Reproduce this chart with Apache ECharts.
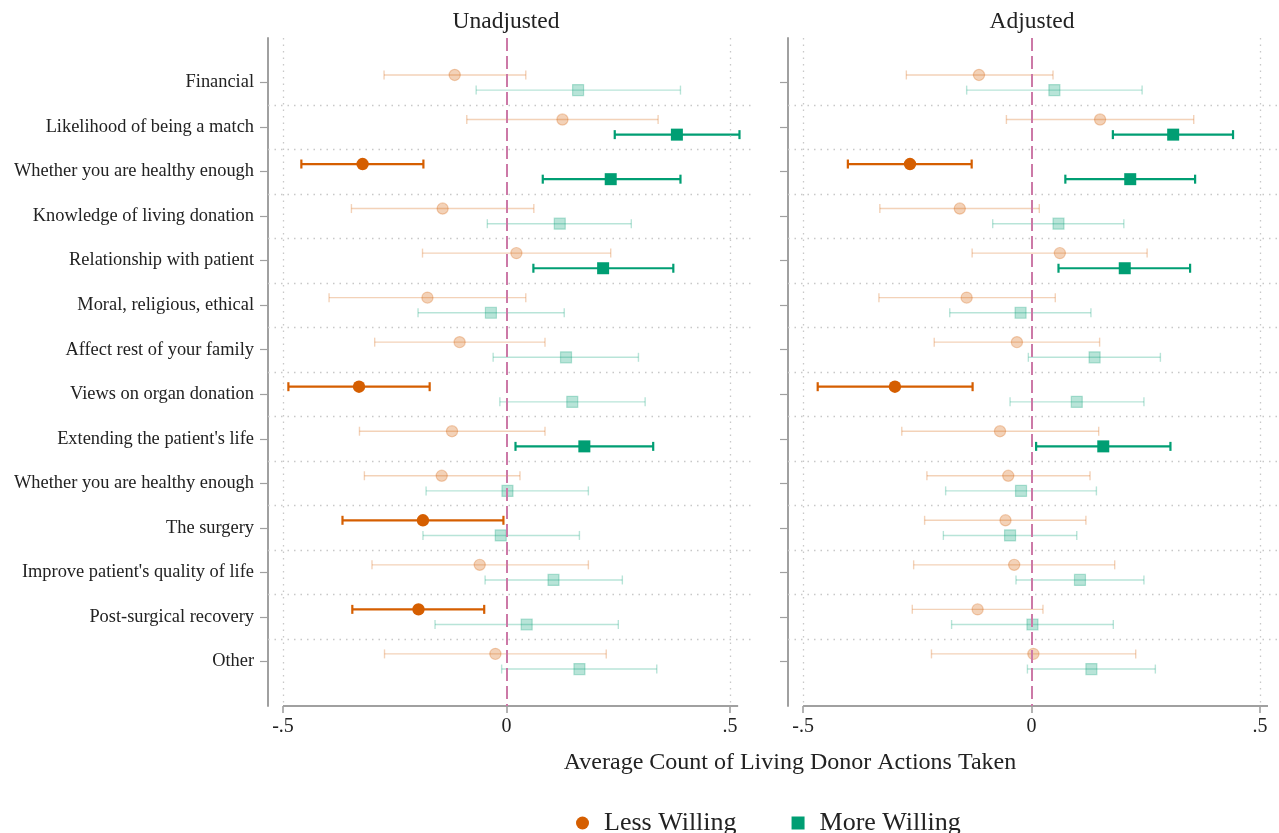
<!DOCTYPE html>
<html><head><meta charset="utf-8">
<script src="https://cdn.jsdelivr.net/npm/echarts@6/dist/echarts.min.js"></script>
<style>html,body{margin:0;padding:0;background:#fff}#c{width:1279px;height:833px}</style>
</head><body><div id="c"></div>
<script>
const categories = ["Financial","Likelihood of being a match","Whether you are healthy enough","Knowledge of living donation","Relationship with patient","Moral, religious, ethical","Affect rest of your family","Views on organ donation","Extending the patient's life","Whether you are healthy enough","The surgery","Improve patient's quality of life","Post-surgical recovery","Other"];
const xTickValues = [-0.5, 0, 0.5];
const xTickLabels = ["-.5", "0", ".5"];
const panelTitles = ["Unadjusted", "Adjusted"];
const seriesNames = ["Less Willing", "More Willing"];

// Unadjusted - Less Willing
const unadjLessEst = [-0.116,0.125,-0.322,-0.143,0.022,-0.177,-0.105,-0.330,-0.122,-0.145,-0.187,-0.060,-0.197,-0.025];
const unadjLessLo  = [-0.274,-0.089,-0.459,-0.347,-0.188,-0.397,-0.295,-0.488,-0.329,-0.318,-0.367,-0.301,-0.345,-0.273];
const unadjLessHi  = [0.043,0.339,-0.186,0.061,0.233,0.043,0.086,-0.172,0.086,0.030,-0.007,0.183,-0.050,0.223];
// Unadjusted - More Willing
const unadjMoreEst = [0.160,0.381,0.233,0.119,0.216,-0.035,0.133,0.147,0.174,0.002,-0.013,0.105,0.045,0.163];
const unadjMoreLo  = [-0.068,0.242,0.081,-0.043,0.060,-0.198,-0.030,-0.015,0.020,-0.180,-0.187,-0.048,-0.160,-0.011];
const unadjMoreHi  = [0.389,0.521,0.389,0.279,0.373,0.129,0.295,0.310,0.328,0.183,0.163,0.259,0.250,0.336];
// Adjusted - Less Willing
const adjLessEst = [-0.115,0.150,-0.266,-0.157,0.062,-0.142,-0.032,-0.299,-0.069,-0.051,-0.057,-0.038,-0.118,0.004];
const adjLessLo  = [-0.274,-0.055,-0.402,-0.332,-0.130,-0.334,-0.213,-0.468,-0.284,-0.229,-0.234,-0.258,-0.261,-0.219];
const adjLessHi  = [0.047,0.355,-0.131,0.017,0.253,0.052,0.149,-0.129,0.147,0.128,0.119,0.182,0.025,0.228];
// Adjusted - More Willing
const adjMoreEst = [0.050,0.310,0.216,0.059,0.204,-0.024,0.138,0.099,0.157,-0.023,-0.047,0.106,0.002,0.131];
const adjMoreLo  = [-0.142,0.178,0.074,-0.085,0.059,-0.179,-0.007,-0.047,0.010,-0.188,-0.193,-0.034,-0.175,-0.009];
const adjMoreHi  = [0.242,0.441,0.358,0.202,0.347,0.130,0.282,0.246,0.304,0.142,0.099,0.246,0.179,0.271];

const ORANGE = '#d55e00', GREEN = '#009e73', PINK = '#cc79a7', GRID = '#c8c8c8', AXIS = '#a0a0a0';
const SERIF = '"Liberation Serif","Times New Roman",serif';
const OFFSET = 0.17;

function build(est, lo, hi, off) {
  return est.map((v, i) => [i + 1 + off, lo[i], v, hi[i]]);
}

function makeRender(shape, color) {
  return function (params, api) {
    const y = api.value(0), lo = api.value(1), pt = api.value(2), hi = api.value(3);
    const sig = lo > 0 || hi < 0;
    const a = sig ? 1 : 0.28;
    const lw = sig ? 2.2 : 1.4;
    const pL = api.coord([lo, y]), pH = api.coord([hi, y]), pP = api.coord([pt, y]);
    const cap = 4.5;
    const ls = { stroke: color, lineWidth: lw, opacity: a };
    const ch = [
      { type: 'line', shape: { x1: pL[0], y1: pL[1], x2: pH[0], y2: pH[1] }, style: ls },
      { type: 'line', shape: { x1: pL[0], y1: pL[1] - cap, x2: pL[0], y2: pL[1] + cap }, style: ls },
      { type: 'line', shape: { x1: pH[0], y1: pH[1] - cap, x2: pH[0], y2: pH[1] + cap }, style: ls }
    ];
    if (shape === 'circle') {
      ch.push({ type: 'circle', shape: { cx: pP[0], cy: pP[1], r: sig ? 6.2 : 5.6 },
        style: sig ? { fill: color } : { fill: color, opacity: a, stroke: color, lineWidth: 1.2 } });
    } else {
      const s = sig ? 12 : 11;
      ch.push({ type: 'rect', shape: { x: pP[0] - s / 2, y: pP[1] - s / 2, width: s, height: s },
        style: sig ? { fill: color } : { fill: color, opacity: a, stroke: color, lineWidth: 1.2 } });
    }
    return { type: 'group', children: ch };
  };
}

const grids = [
  { left: 268, top: 38, width: 484, height: 668, min: -0.5336, max: 0.549, axisEnd: 0.518 },
  { left: 788, top: 38, width: 491, height: 668, min: -0.533, max: 0.5416, axisEnd: 0.5175 }
];

const catIdx = categories.map((c, i) => i + 1);
const sepLines = categories.slice(1).map((c, i) => ({ yAxis: i + 1.5 }));

const option = {
  animation: false,
  backgroundColor: '#fff',
  grid: grids.map(g => ({ left: g.left, top: g.top, width: g.width, height: g.height, containLabel: false })),
  xAxis: grids.map((g, k) => ({
    type: 'value', gridIndex: k, min: g.min, max: g.max, position: 'bottom',
    axisLine: { show: false, onZero: false },
    axisTick: { show: true, length: 7, customValues: xTickValues, lineStyle: { color: AXIS, width: 1.6 } },
    axisLabel: { customValues: xTickValues, margin: 11, color: '#222', fontSize: 20, fontFamily: SERIF,
      formatter: v => { const i = xTickValues.findIndex(t => Math.abs(t - v) < 1e-6); return i >= 0 ? xTickLabels[i] : ''; } },
    splitLine: { show: false }
  })),
  yAxis: grids.map((g, k) => ({
    type: 'value', gridIndex: k, min: 0, max: 15, inverse: true, position: 'left',
    axisLine: { show: true, onZero: false, lineStyle: { color: AXIS, width: 2 } },
    axisTick: { show: true, length: 8, customValues: catIdx, lineStyle: { color: AXIS, width: 1.2 } },
    axisLabel: { show: k === 0, customValues: catIdx, margin: 14, color: '#222', fontSize: 18.4, fontFamily: SERIF,
      formatter: v => categories[Math.round(v) - 1] || '' },
    splitLine: { show: false }
  })),
  legend: {
    left: 571, top: 805, itemWidth: 13, itemHeight: 13, itemGap: 55,
    data: [{ name: seriesNames[0], icon: 'circle' }, { name: seriesNames[1], icon: 'rect' }],
    textStyle: { fontSize: 26, fontFamily: SERIF, color: '#222', padding: [0, 0, 0, 10] },
    selectedMode: false
  },
  graphic: [
    { type: 'text', x: 506, y: 22, style: { text: panelTitles[0], fontSize: 23.5, fontFamily: SERIF, fill: '#222', align: 'center', verticalAlign: 'middle' } },
    { type: 'text', x: 1032, y: 22, style: { text: panelTitles[1], fontSize: 23.5, fontFamily: SERIF, fill: '#222', align: 'center', verticalAlign: 'middle' } },
    { type: 'text', x: 790, y: 763, style: { text: 'Average Count of Living Donor Actions Taken', fontSize: 24, fontFamily: SERIF, fill: '#222', align: 'center', verticalAlign: 'middle' } }
  ],
  series: []
};

const panels = [
  [unadjLessEst, unadjLessLo, unadjLessHi, unadjMoreEst, unadjMoreLo, unadjMoreHi],
  [adjLessEst, adjLessLo, adjLessHi, adjMoreEst, adjMoreLo, adjMoreHi]
];

panels.forEach((p, k) => {
  const g = grids[k];
  option.series.push({
    type: 'line', name: 'ref' + k, xAxisIndex: k, yAxisIndex: k, data: [], z: 1, silent: true,
    markLine: {
      silent: true, symbol: ['none', 'none'], label: { show: false }, animation: false,
      data: [
        ...sepLines.map(d => ({ ...d, lineStyle: { color: GRID, type: [1.5, 5], width: 1.3 } })),
        { xAxis: -0.5, lineStyle: { color: GRID, type: [1.5, 5], width: 1.3 } },
        { xAxis: 0.5, lineStyle: { color: GRID, type: [1.5, 5], width: 1.3 } },
        [{ coord: [-0.5, 15], lineStyle: { color: AXIS, type: 'solid', width: 1.8 } }, { coord: [g.axisEnd, 15] }]
      ]
    }
  });
  option.series.push({
    type: 'custom', name: seriesNames[0], xAxisIndex: k, yAxisIndex: k, z: 3,
    itemStyle: { color: ORANGE },
    renderItem: makeRender('circle', ORANGE),
    encode: { x: [1, 2, 3], y: 0 },
    data: build(p[0], p[1], p[2], -OFFSET)
  });
  option.series.push({
    type: 'custom', name: seriesNames[1], xAxisIndex: k, yAxisIndex: k, z: 3,
    itemStyle: { color: GREEN },
    renderItem: makeRender('rect', GREEN),
    encode: { x: [1, 2, 3], y: 0 },
    data: build(p[3], p[4], p[5], OFFSET)
  });
  option.series.push({
    type: 'line', name: 'zero' + k, xAxisIndex: k, yAxisIndex: k, data: [], z: 4, silent: true,
    markLine: {
      silent: true, symbol: ['none', 'none'], label: { show: false }, animation: false,
      data: [{ xAxis: 0, lineStyle: { color: PINK, type: [13, 5], width: 2 } }]
    }
  });
});

const chart = echarts.init(document.getElementById('c'), null, { renderer: 'canvas' });
chart.setOption(option);
</script>
</body></html>
